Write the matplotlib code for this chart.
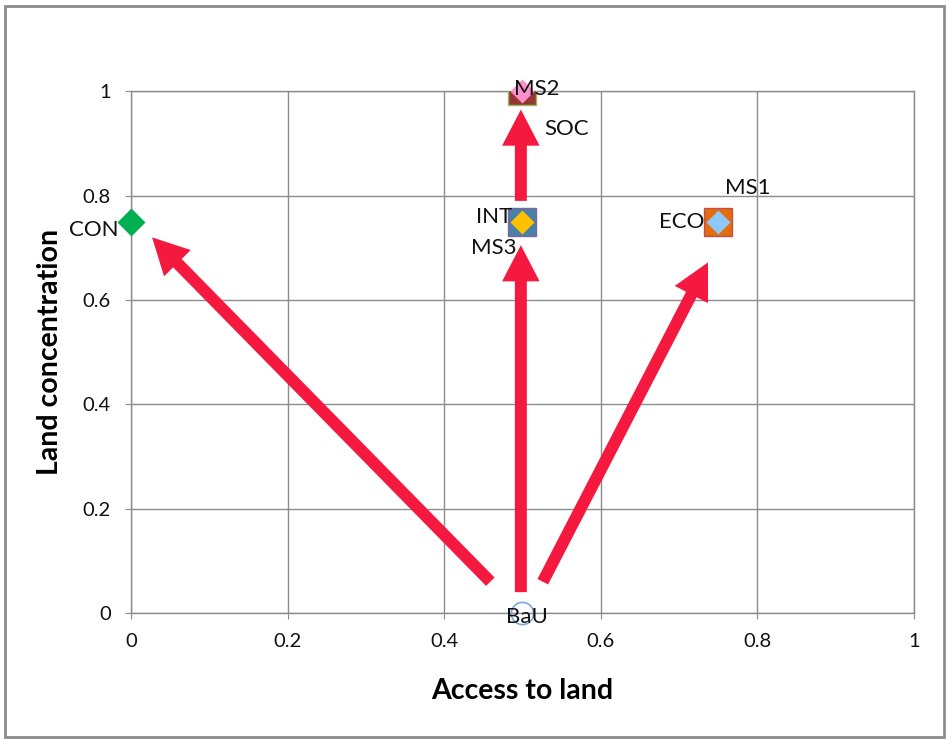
import matplotlib.pyplot as plt
from matplotlib.patches import Rectangle

plt.rcParams["font.family"] = ["Lato", "DejaVu Sans"]

# points (scenario positions)
diamond_names = ["CON", "INT", "ECO", "SOC"]
diamond_x = [0.0, 0.5, 0.75, 0.5]
diamond_y = [0.75, 0.75, 0.75, 1.0]
diamond_colors = ["#00B050", "#FFC000", "#8EC8F8", "#FF8FCC"]

square_names = ["MS1", "MS2", "MS3"]
square_x = [0.75, 0.5, 0.5]
square_y = [0.75, 1.0, 0.75]
square_colors = ["#E46C0A", "#953735", "#4A80A8"]
square_edges = ["#C0504D", "#9BBB59", "#8064A2"]

bau_x = [0.5]
bau_y = [0.0]

# arrows (tail -> tip)
arrow_tail_x = [0.459, 0.498, 0.526, 0.498]
arrow_tail_y = [0.060, 0.040, 0.060, 0.790]
arrow_tip_x = [0.027, 0.498, 0.737, 0.498]
arrow_tip_y = [0.720, 0.705, 0.672, 0.965]

ticks = [0, 0.2, 0.4, 0.6, 0.8, 1]
tick_labels = ["0", "0.2", "0.4", "0.6", "0.8", "1"]

# label offsets in points
label_pos = {
    "CON": (0.0, 0.75, -9, -6, "right"),
    "BaU": (0.5, 0.0, 3, -3, "center"),
    "MS2": (0.5, 1.0, 10, 2, "center"),
    "SOC": (0.5, 1.0, 16, -27, "left"),
    "INT": (0.5, 0.75, -7, 3.5, "right"),
    "MS3": (0.5, 0.75, -4, -19, "right"),
    "ECO": (0.75, 0.75, -10, 0, "right"),
    "MS1": (0.75, 0.75, 5, 24, "left"),
}

fig = plt.figure(figsize=(9.49, 7.40), dpi=100)
ax = fig.add_axes([0.138, 0.1716, 0.825, 0.705])

fig.patches.append(Rectangle((0.005, 0.004), 0.99, 0.988, transform=fig.transFigure,
                             fill=False, edgecolor="#8c8c8c", linewidth=2))

ax.set_xlim(0, 1)
ax.set_ylim(0, 1)
ax.set_xticks(ticks)
ax.set_xticklabels(tick_labels)
ax.set_yticks(ticks)
ax.set_yticklabels(tick_labels)
ax.grid(True, color="#8c8c8c", linewidth=1)
ax.set_axisbelow(True)
for s in ax.spines.values():
    s.set_color("#8c8c8c")
    s.set_linewidth(1)
ax.tick_params(length=4.3, color="#8c8c8c", labelsize=14.5, pad=10, labelcolor="#111111")

for i in range(len(arrow_tail_x)):
    ax.annotate("", xy=(arrow_tip_x[i], arrow_tip_y[i]),
                xytext=(arrow_tail_x[i], arrow_tail_y[i]),
                arrowprops=dict(facecolor="#F5193F", edgecolor="none",
                                width=8.6, headwidth=27, headlength=26, shrink=0),
                zorder=3)

for i in range(len(square_names)):
    ax.plot(square_x[i], square_y[i], marker="s", markersize=19.5,
            markerfacecolor=square_colors[i], markeredgecolor=square_edges[i],
            markeredgewidth=1, linestyle="none", zorder=4)

for i in range(len(diamond_names)):
    ms = 14 if diamond_names[i] == "CON" else 12.5
    ax.plot(diamond_x[i], diamond_y[i], marker="D", markersize=ms,
            markerfacecolor=diamond_colors[i], markeredgecolor="none",
            linestyle="none", zorder=5, clip_on=False)

ax.plot(bau_x, bau_y, marker="o", markersize=16, markerfacecolor="none",
        markeredgecolor="#7FA7D8", markeredgewidth=1.2, linestyle="none",
        zorder=5, clip_on=False)

for name, (x, y, dx, dy, ha) in label_pos.items():
    ax.annotate(name, xy=(x, y), xytext=(dx, dy), textcoords="offset points",
                ha=ha, va="center", fontsize=16, color="#111111", zorder=6)

ax.set_xlabel("Access to land", fontsize=20.5, fontweight="bold", labelpad=20, color="black")
ax.set_ylabel("Land concentration", fontsize=20.5, fontweight="bold", labelpad=14, color="black")

fig.savefig("out.png", dpi=100)
